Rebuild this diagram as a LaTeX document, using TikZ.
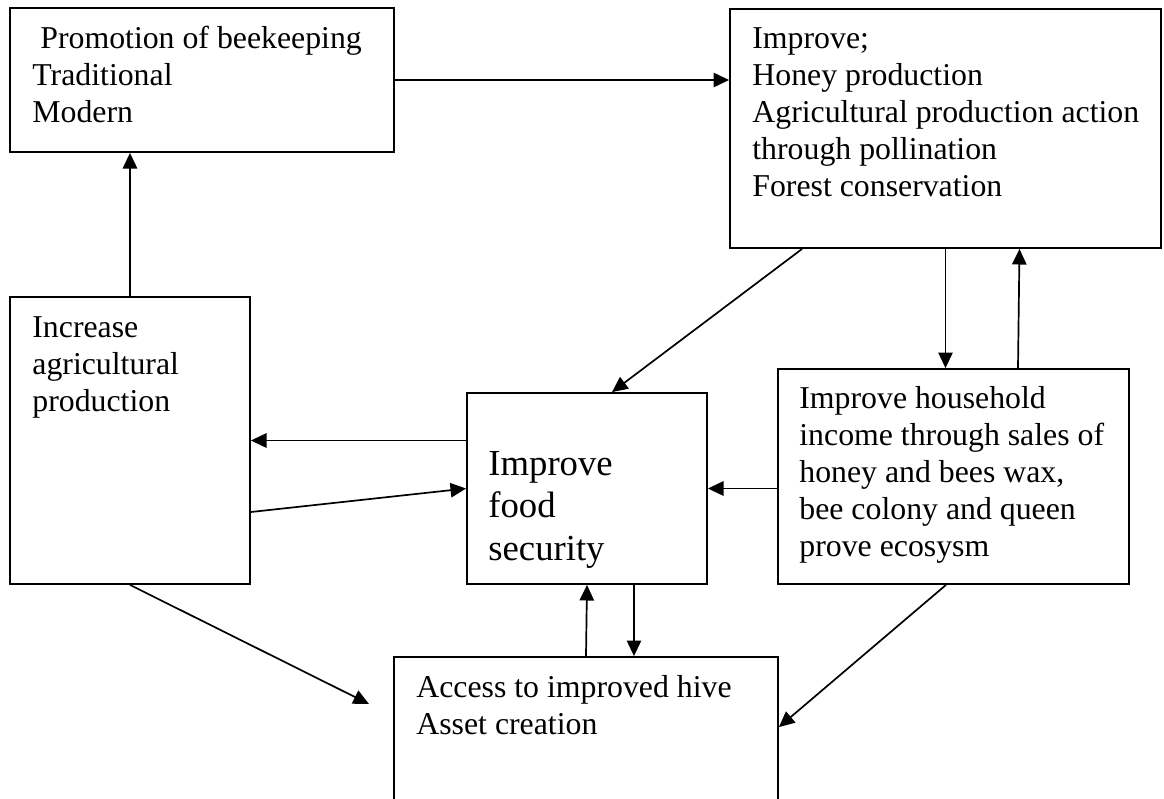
\documentclass[tikz,border=0pt]{standalone}
\usepackage{fontspec}
\setmainfont{Liberation Serif}
\usetikzlibrary{arrows.meta,calc,fit}
\begin{document}
\begin{tikzpicture}[x=0.5pt,y=-0.5pt,
  box/.style={draw=black, line width=0.9pt, inner sep=0pt, rectangle},
  txt/.style={anchor=base west, inner sep=0pt, align=left, font=\fontsize{15.9pt}{18.5pt}\selectfont},
  bigtxt/.style={txt, font=\fontsize{18.35pt}{21.25pt}\selectfont},
  arr/.style={line width=0.85pt, -{Triangle[length=7.8pt,width=7.2pt]}}]
\useasboundingbox (0,0) rectangle (1164,799);
\fill[white] (0,0) rectangle (1164,799);
\clip (0,0) rectangle (1164,799);

% boxes
\node[box, fit={(10,8) (394,152)}] (b1) {};
\node[box, fit={(730,9) (1161,248)}] (b2) {};
\node[box, fit={(10,297) (250,584)}] (b3) {};
\node[box, fit={(467,393) (707,584)}] (b4) {};
\node[box, fit={(778,369) (1129,584)}] (b5) {};
\node[box, fit={(394,657) (778,840)}] (b6) {};

% texts (anchored at the baseline of their last line)
\node[txt] (t1) at (32,122) {\hspace*{0.25em}Promotion of beekeeping\\Traditional\\Modern};
\node[txt] (t2) at (752,196) {Improve;\\Honey production\\Agricultural production action\\through pollination\\Forest conservation};
\node[txt] (t3) at (32,411) {Increase\\agricultural\\production};
\node[bigtxt] (t4) at (488,560) {Improve\\food\\security};
\node[txt] (t5) at (799,556) {Improve household\\income through sales of\\honey and bees wax,\\bee colony and queen\\prove ecosysm};
\node[txt] (t6) at (416,734) {Access to improved hive\\Asset creation};

% connectors
\coordinate (free) at (369,704);
\draw[arr] (b1.east) -- (b1.east -| b2.west);
\draw[arr] (b3.north) -- (b3.north |- b1.south);
\draw[arr] ($(b2.south west)+(73,0)$) -- ($(b4.north)+(25,0)$);
\draw[arr] (b2.south) -- (b2.south |- b5.north);
\draw[arr] ($(b5.north)+(64.5,0)$) -- ($(b2.south)+(74,0)$);
\draw[arr] (b4.west |- b3.east) -- (b3.east);
\draw[arr] ($(b3.east)+(0,71.5)$) -- (b4.west);
\draw[arr] (b5.west |- b4.east) -- (b4.east);
\draw[arr] (b3.south) -- (free);
\draw[arr] ($(b5.south)+(-7.5,0)$) -- ($(b6.north east)+(0,71)$);
\draw[arr] (b6.north) -- (b4.south);
\draw[arr] ($(b4.south)+(47,0)$) -- ($(b6.north)+(48,0)$);
\end{tikzpicture}
\end{document}
